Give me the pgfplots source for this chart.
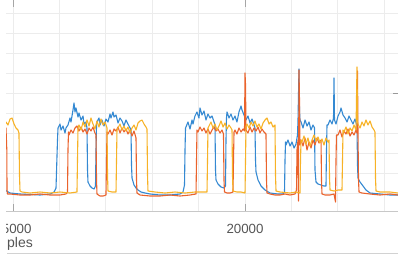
\documentclass[border=0pt]{standalone}
\usepackage{fontspec}
\setmainfont{Liberation Sans}
\usepackage{pgfplots}
\pgfplotsset{compat=1.18}
\definecolor{cblue}{RGB}{52,137,210}
\definecolor{corange}{RGB}{234,99,44}
\definecolor{cyellow}{RGB}{247,178,38}
\definecolor{gridc}{RGB}{236,236,236}
\definecolor{axc}{RGB}{200,200,200}
\definecolor{labc}{RGB}{85,85,85}
\begin{document}
\begin{tikzpicture}[x=1pt,y=1pt]
\useasboundingbox (0,0) rectangle (398,255);
\begin{axis}[
  at={(0pt,44pt)}, anchor=south west,
  scale only axis, width=398pt, height=211pt,
  xmin=14720, xmax=23297, ymin=0, ymax=211,
  scaled ticks=false,
  axis line style={draw=none},
  xtick={15000,16000,...,23000},
  xticklabels={},
  ytick={18,38,...,198},
  yticklabels={},
  major tick length=0pt,
  grid=major,
  major grid style={gridc, line width=0.8pt},
  extra x ticks={15000,20000},
  extra x tick labels={15000,20000},
  extra x tick style={grid=none, major tick length=7pt, tick align=inside,
     tick style={draw=gray!70, line width=0.8pt},
     xticklabel style={font=\fontsize{13.3}{14}\selectfont, text=labc, anchor=base, yshift=-22pt}},
  clip=true,
  line join=round,
  every axis plot/.append style={line width=1.1pt, mark=none},
]
\draw[axc, line width=0.8pt] (rel axis cs:0,0) -- (rel axis cs:1,0);
% blue
\addplot[cblue] coordinates {
(14720,23)(14828,21)(14936,18)(15151,17)(15582,16)(15798,17)(15884,19)(15927,23)(15959,71)(15970,83)
(16013,87)(16035,81)(16078,85)(16121,78)(16142,83)(16185,86)(16229,93)(16250,89)(16293,101)(16315,108)
(16336,99)(16358,103)(16401,94)(16422,98)(16466,91)(16509,95)(16530,87)(16573,89)(16595,83)(16606,41)
(16616,29)(16660,25)(16703,23)(16746,22)(16778,25)(16789,61)(16800,86)(16810,89)(16853,93)(16875,86)
(16918,91)(16961,85)(17004,92)(17047,89)(17091,97)(17112,93)(17155,99)(17177,94)(17220,96)(17263,88)
(17306,93)(17349,90)(17392,85)(17435,91)(17478,87)(17522,83)(17543,81)(17554,46)(17565,33)(17608,26)
(17651,23)(17694,21)(17759,19)(17845,18)(17953,17)(18168,16)(18384,16)(18599,17)(18664,19)(18696,26)
(18707,61)(18718,83)(18728,84)(18771,89)(18815,82)(18858,91)(18879,87)(18922,95)(18965,99)(19008,93)
(19030,103)(19073,96)(19116,100)(19159,91)(19202,97)(19246,93)(19289,95)(19332,89)(19353,86)(19364,41)
(19375,31)(19418,27)(19483,24)(19547,23)(19580,25)(19590,71)(19601,93)(19612,99)(19655,93)(19698,97)
(19741,91)(19784,95)(19827,89)(19870,99)(19914,105)(19935,101)(19978,96)(20021,91)(20064,95)(20108,88)
(20151,92)(20194,86)(20215,83)(20226,51)(20237,39)(20280,31)(20345,25)(20431,21)(20539,18)(20711,17)
(20819,17)(20851,19)(20862,51)(20873,69)(20883,66)(20926,71)(20970,65)(21013,69)(21056,63)(21099,67)
(21131,76)(21142,91)(21163,142)(21174,101)(21185,91)(21207,89)(21250,83)(21293,91)(21336,85)(21379,89)
(21422,81)(21465,86)(21498,83)(21508,41)(21530,29)(21573,27)(21638,26)(21702,25)(21745,25)(21756,61)
(21767,86)(21788,86)(21831,91)(21875,87)(21907,93)(21918,133)(21928,91)(21961,87)(22004,95)(22047,99)
(22069,103)(22112,96)(22155,93)(22198,89)(22241,95)(22284,91)(22327,87)(22370,92)(22413,85)(22424,46)
(22435,33)(22478,29)(22543,25)(22607,21)(22694,18)(22909,17)(23125,16)(23297,16)
};
% orange
\addplot[corange] coordinates {
(14720,81)(14763,85)(14806,79)(14849,83)(14867,61)(14871,21)(14882,17)(14936,17)(15151,16)(15367,16)
(15582,17)(15798,16)(16013,16)(16142,17)(16175,19)(16185,61)(16196,79)(16207,76)(16250,81)(16293,78)
(16336,83)(16379,85)(16422,80)(16466,84)(16509,79)(16552,82)(16595,77)(16638,83)(16681,80)(16724,84)
(16767,78)(16789,76)(16800,31)(16810,17)(16875,15)(16940,15)(17004,16)(17015,51)(17026,79)(17047,77)
(17091,81)(17134,76)(17177,82)(17220,80)(17263,84)(17306,78)(17349,83)(17392,79)(17435,82)(17478,77)
(17522,81)(17565,75)(17608,80)(17651,73)(17662,31)(17672,18)(17737,16)(17953,15)(18168,15)(18384,16)
(18599,15)(18815,16)(18944,17)(18955,51)(18965,81)(18987,79)(19030,84)(19073,80)(19116,83)(19159,78)
(19202,82)(19246,77)(19289,81)(19332,84)(19375,80)(19418,82)(19461,78)(19504,81)(19536,77)(19547,31)
(19558,19)(19612,18)(19677,18)(19741,19)(19752,51)(19763,79)(19784,81)(19827,77)(19870,83)(19914,79)
(19957,82)(19989,80)(20000,138)(20011,126)(20021,81)(20064,78)(20108,84)(20151,79)(20194,83)(20237,80)
(20280,84)(20323,78)(20366,82)(20409,79)(20452,77)(20463,31)(20474,18)(20539,17)(20646,16)(20754,16)
(20862,17)(20970,16)(21077,17)(21110,21)(21120,61)(21131,66)(21142,71)(21152,10)(21163,141)(21174,111)
(21185,66)(21207,71)(21250,65)(21293,73)(21336,61)(21379,69)(21422,63)(21465,71)(21508,66)(21551,73)
(21594,68)(21638,71)(21648,31)(21659,17)(21724,16)(21831,16)(21918,17)(21950,9)(21961,51)(21971,76)
(22004,76)(22047,81)(22090,74)(22133,80)(22176,77)(22219,82)(22263,75)(22306,79)(22349,76)(22392,81)
(22413,78)(22424,140)(22435,76)(22446,31)(22457,19)(22521,18)(22694,17)(22909,16)(23125,17)(23297,16)
};
% yellow
\addplot[cyellow] coordinates {
(14720,81)(14763,87)(14806,83)(14849,89)(14892,86)(14936,92)(14979,93)(15022,87)(15065,83)(15108,81)
(15129,78)(15140,36)(15151,20)(15194,19)(15367,18)(15582,19)(15798,18)(16013,19)(16229,18)(16379,19)
(16390,51)(16401,83)(16422,86)(16466,81)(16509,89)(16552,84)(16595,91)(16638,85)(16681,93)(16724,87)
(16767,82)(16810,90)(16853,84)(16896,92)(16940,86)(16983,89)(17026,83)(17037,36)(17047,20)(17134,19)
(17220,19)(17231,51)(17241,81)(17263,83)(17306,87)(17349,81)(17392,85)(17435,80)(17478,84)(17522,78)
(17565,83)(17608,86)(17651,81)(17694,88)(17737,90)(17780,91)(17823,87)(17866,84)(17888,82)(17899,36)
(17909,20)(18060,19)(18276,18)(18491,19)(18707,18)(18922,19)(19181,19)(19192,51)(19202,83)(19224,85)
(19267,89)(19310,83)(19353,87)(19396,81)(19439,85)(19483,90)(19526,84)(19569,88)(19612,82)(19655,86)
(19698,83)(19720,81)(19730,36)(19741,20)(19827,19)(19914,19)(20000,18)(20011,51)(20021,85)(20043,87)
(20086,83)(20129,89)(20172,85)(20215,90)(20258,84)(20301,87)(20345,82)(20388,88)(20431,91)(20474,93)
(20517,87)(20560,89)(20603,84)(20646,86)(20657,36)(20668,20)(20754,19)(20970,18)(21099,19)(21185,18)
(21196,51)(21207,71)(21228,69)(21271,75)(21314,67)(21357,73)(21400,65)(21444,71)(21487,76)(21530,70)
(21573,74)(21616,68)(21659,72)(21702,66)(21745,73)(21788,69)(21810,71)(21821,33)(21832,21)(21918,20)
(22004,21)(22090,21)(22101,51)(22112,81)(22133,79)(22176,84)(22219,77)(22263,83)(22306,80)(22349,86)
(22392,81)(22413,144)(22424,90)(22435,87)(22478,83)(22521,89)(22564,85)(22607,91)(22650,86)(22694,90)
(22737,84)(22780,81)(22801,79)(22812,33)(22823,20)(22909,19)(23125,19)(23297,18)
};
\end{axis}
\node[anchor=base west, inner sep=0pt, font=\fontsize{14}{16}\selectfont, text=labc] at (-19.5,8) {samples};
\draw[gray!35, line width=0.9pt] (7,1.5) -- (398,1.5);
\draw[gray!80, line width=0.9pt] (393,162) -- (398,162);
\fill[white] (0,0) rectangle (6.3,255);
\end{tikzpicture}
\end{document}
